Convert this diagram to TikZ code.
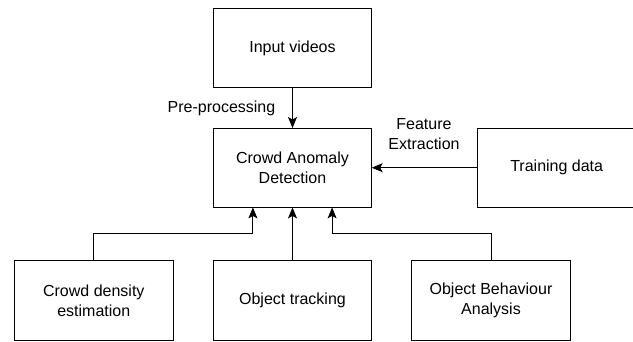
\documentclass[tikz,border=0pt]{standalone}
\usepackage{fontspec}
\setmainfont{Liberation Sans}
\usetikzlibrary{arrows.meta,calc}

\tikzset{
  stage/.style={draw=black, line width=0.9pt, minimum width=158.4pt,
    minimum height=79.4pt, inner sep=2pt, outer sep=0pt, align=center,
    font=\fontsize{16}{20}\selectfont},
  flow/.style={draw=black, line width=0.9pt,
    -{Stealth[length=11pt, width=9pt, inset=2.5pt]}},
  note/.style={inner sep=0pt, align=center, font=\fontsize{16}{20}\selectfont}
}

\begin{document}
\begin{tikzpicture}[x=1pt, y=-1pt]
  \useasboundingbox (0,0) rectangle (633,341);
  \clip (0,0) rectangle (633,341);

  % process stages
  \node[stage] (input)    at (292.5, 48.0)  {Input videos};
  \node[stage] (detect)   at (292.5, 167.7) {Crowd Anomaly\\Detection};
  \node[stage] (train)    at (556.7, 167.7) {Training data};
  \node[stage] (density)  at (93.8, 300.3)  {Crowd density\\estimation};
  \node[stage] (tracking) at (292.5, 300.3) {Object tracking};
  \node[stage] (behave)   at (491.0, 300.3) {Object Behaviour\\Analysis};

  % attachment points on the lower edge of the detection stage
  \coordinate (inL) at ($(detect.south west)!0.25!(detect.south east)$);
  \coordinate (inR) at ($(detect.south west)!0.75!(detect.south east)$);

  % connectors into the detection stage
  \draw[flow] (input.south) -- (detect.north);
  \draw[flow] (train.west) -- (detect.east);
  \draw[flow] (tracking.north) -- (detect.south);
  \draw[flow] (density.north) |- ($(inL)+(0,25.6)$) -- (inL);
  \draw[flow] (behave.north) |- ($(inR)+(0,25.6)$) -- (inR);

  % connector labels
  \node[note, anchor=base east] (pre) at (275.5, 112.3) {Pre-processing};
  \node[note] (feat) at (424.0, 134.0) {Feature\\Extraction};
\end{tikzpicture}
\end{document}
